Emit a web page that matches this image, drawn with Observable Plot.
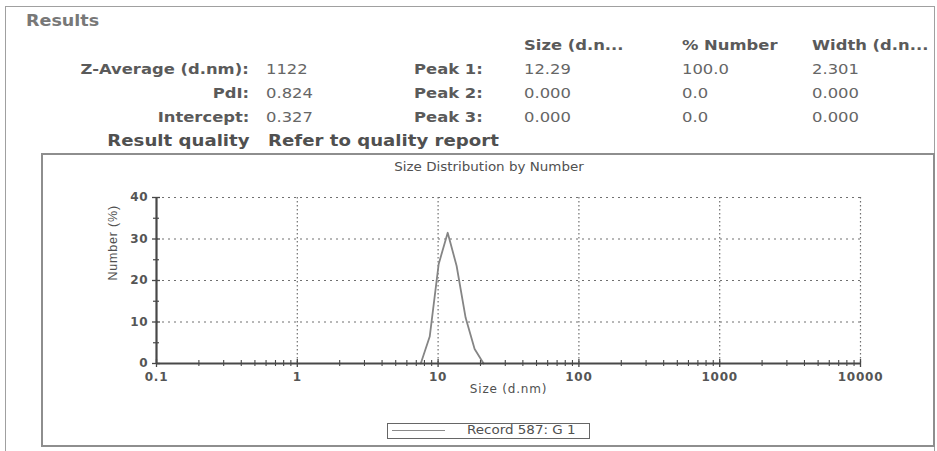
<!DOCTYPE html>
<html><head><meta charset="utf-8">
<script src="https://cdn.jsdelivr.net/npm/d3@7"></script>
<script src="https://cdn.jsdelivr.net/npm/@observablehq/plot@0.6"></script>
<style>
html,body{margin:0;padding:0;background:#fff;}
#page{position:relative;width:937px;height:451px;overflow:hidden;background:#fff;font-family:"DejaVu Sans",sans-serif;}
.txt{position:absolute;white-space:nowrap;}
#outer{position:absolute;left:5px;top:6px;width:930px;height:480px;border:1.5px solid #a0a0a0;box-sizing:border-box;}
#chartbox{position:absolute;left:41px;top:153px;width:894px;height:294px;border:2px solid #8e8e8e;box-sizing:border-box;}
#plot{position:absolute;left:41px;top:153px;}
#plot svg text{letter-spacing:0.8px;}
#plot g[aria-label="y-title"] text{letter-spacing:0;}
#legend{position:absolute;left:387px;top:423px;width:203px;height:16px;border:1.5px solid #666;box-sizing:border-box;background:#fff;}
#legendline{position:absolute;left:392px;top:430px;width:53px;height:0;border-top:1px solid #8a8a8a;}
</style></head>
<body><div id="page"><div id="outer"></div><div id="chartbox"></div><div id="plot"></div><div id="legend"></div><div id="legendline"></div></div>
<script>
// ---- data ----
const resultLabels = ["Z-Average (d.nm):", "PdI:", "Intercept:"];
const resultValues = ["1122", "0.824", "0.327"];
const peakLabels = ["Peak 1:", "Peak 2:", "Peak 3:"];
const peakColumns = ["Size (d.n...", "% Number", "Width (d.n..."];
const peakSize = ["12.29", "0.000", "0.000"];
const peakNumber = ["100.0", "0.0", "0.0"];
const peakWidth = ["2.301", "0.000", "0.000"];
const qualityLabel = "Result quality";
const qualityValue = "Refer to quality report";
const chartTitle = "Size Distribution by Number";
const legendLabel = "Record 587: G 1";
const xLabel = "Size (d.nm)";
const yLabel = "Number (%)";

const xTickValues = [0.1, 1, 10, 100, 1000, 10000];
const xTickLabels = ["0.1", "1", "10", "100", "1000", "10000"];
const yTickValues = [0, 10, 20, 30, 40];
const yMinorTicks = [5, 15, 25, 35];

const sizes = [7.531, 8.721, 10.10, 11.70, 13.54, 15.69, 18.17, 21.04];
const numberPct = [0, 6.5, 24, 31.5, 23.5, 11, 3.5, 0];

// ---- header (HTML text) ----
const page = document.getElementById("page");
const STRETCH = 1.17;
function put(str, x, yc, {anchor = "start", size = 14, weight = "bold", color = "#5a5a5a"} = {}) {
  const d = document.createElement("div");
  d.className = "txt";
  d.textContent = str;
  d.style.fontSize = size + "px";
  d.style.lineHeight = (size * 1.2) + "px";
  d.style.fontWeight = weight;
  d.style.color = color;
  d.style.top = (yc - size * 0.6) + "px";
  if (anchor === "end") {
    d.style.right = (937 - x) + "px";
    d.style.transformOrigin = "right center";
    d.style.transform = `scaleX(${STRETCH})`;
  } else if (anchor === "middle") {
    d.style.left = x + "px";
    d.style.transformOrigin = "center center";
    d.style.transform = `translateX(-50%) scaleX(${STRETCH})`;
  } else {
    d.style.left = x + "px";
    d.style.transformOrigin = "left center";
    d.style.transform = `scaleX(${STRETCH})`;
  }
  page.appendChild(d);
}
put("Results", 26, 21, {size: 15, color: "#787878"});
const rowY = [69, 93, 117];
resultLabels.forEach((t, i) => put(t, 249, rowY[i], {anchor: "end"}));
resultValues.forEach((t, i) => put(t, 266, rowY[i], {weight: "normal", color: "#666"}));
peakLabels.forEach((t, i) => put(t, 483, rowY[i], {anchor: "end"}));
const colX = [524, 682, 812];
peakColumns.forEach((t, i) => put(t, colX[i], 45));
[peakSize, peakNumber, peakWidth].forEach((col, c) =>
  col.forEach((t, i) => put(t, colX[c], rowY[i], {weight: "normal", color: "#666"})));
put(qualityLabel, 250, 141, {anchor: "end", size: 15.5, color: "#505050"});
put(qualityValue, 268, 141, {size: 15.5, color: "#505050"});
put(chartTitle, 489, 168, {anchor: "middle", size: 11.5, weight: "normal", color: "#505050"});
put(legendLabel, 467, 430.5, {size: 11.5, weight: "normal", color: "#505050"});

// ---- chart ----
const curve = sizes.map((s, i) => ({size: s, pct: numberPct[i]}));
const xMinorTicks = xTickValues.slice(0, -1).flatMap(d => [2, 3, 4, 5, 6, 7, 8, 9].map(k => +(d * k).toPrecision(3)));
const axisColor = "#484848";
const gridStyle = {stroke: "#707070", strokeOpacity: 1, strokeWidth: 1.2};

const chart = Plot.plot({
  width: 894, height: 294,
  marginLeft: 115, marginRight: 75, marginTop: 44, marginBottom: 84,
  style: {background: "transparent", color: "#555", fontFamily: "'DejaVu Sans', sans-serif", overflow: "visible"},
  x: {type: "log", domain: [0.1, 10000]},
  y: {domain: [0, 40]},
  marks: [
    Plot.gridY(yTickValues.slice(1), {...gridStyle, strokeDasharray: "2,4"}),
    Plot.gridX(xTickValues.slice(1), {...gridStyle, strokeDasharray: "1.5,2.5"}),
    Plot.line(curve, {x: "size", y: "pct", stroke: "#858585", strokeWidth: 1.8}),
    Plot.ruleY([0], {stroke: axisColor, strokeWidth: 2.2}),
    Plot.ruleX([0.1], {stroke: axisColor, strokeWidth: 2.2}),
    Plot.axisY(yTickValues, {tickSize: 8, dx: 4, fill: "none", stroke: axisColor, strokeWidth: 1.3}),
    Plot.axisY(yMinorTicks, {tickSize: 6, dx: 3, fill: "none", stroke: axisColor, strokeWidth: 1.2}),
    Plot.axisX(xTickValues, {tickSize: 8, dy: -4, fill: "none", stroke: axisColor, strokeWidth: 1.3}),
    Plot.axisX(xMinorTicks, {tickSize: 6, dy: -3, fill: "none", stroke: axisColor, strokeWidth: 1.1}),
    Plot.axisY(yTickValues, {tickSize: 0, tickPadding: 8, fontSize: 12, fontWeight: "bold", fill: "#555", label: null}),
    Plot.axisX(xTickValues, {tickSize: 0, tickPadding: 9, fontSize: 12, fontWeight: "bold", fill: "#555", label: null,
      tickFormat: d => xTickLabels[xTickValues.indexOf(d)]}),
    Plot.text([xLabel], {frameAnchor: "bottom", dy: 29, fontSize: 12, fill: "#505050"}),
    Plot.text([yLabel], {frameAnchor: "left", dx: -44, rotate: -90, fontSize: 12.5, fill: "#505050",
      fontFamily: "'Liberation Sans', Arial, sans-serif", ariaLabel: "y-title"})
  ]
});
document.getElementById("plot").appendChild(chart);
</script>
</body></html>
